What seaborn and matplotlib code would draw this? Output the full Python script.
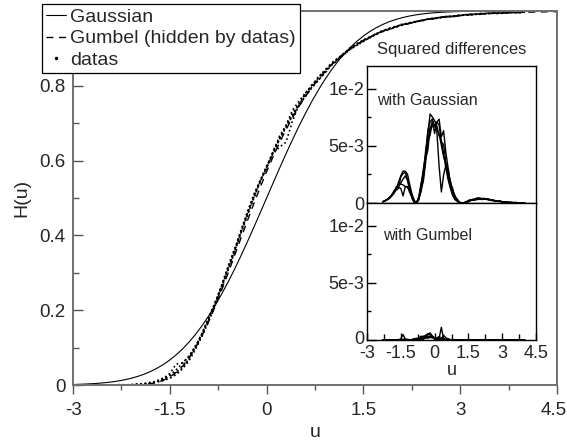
import numpy as np
import pandas as pd
import matplotlib
matplotlib.use("Agg")
import matplotlib.pyplot as plt
import matplotlib.transforms as mtransforms
import seaborn as sns
from matplotlib.lines import Line2D
from matplotlib.ticker import FixedLocator, MultipleLocator

# ------------------------------------------------------------------
# DATA
# ------------------------------------------------------------------
u_model = np.round(np.arange(-3.0, 4.51, 0.1), 1)

gauss = [
    0.0013, 0.0019, 0.0026, 0.0035, 0.0047, 0.0062, 0.0082, 0.0107, 0.0139, 0.0179,
    0.0228, 0.0287, 0.0359, 0.0446, 0.0548, 0.0668, 0.0808, 0.0968, 0.1151, 0.1357,
    0.1587, 0.1841, 0.2119, 0.2420, 0.2743, 0.3085, 0.3446, 0.3821, 0.4207, 0.4602,
    0.5000, 0.5398, 0.5793, 0.6179, 0.6554, 0.6915, 0.7257, 0.7580, 0.7881, 0.8159,
    0.8413, 0.8643, 0.8849, 0.9032, 0.9192, 0.9332, 0.9452, 0.9554, 0.9641, 0.9713,
    0.9772, 0.9821, 0.9861, 0.9893, 0.9918, 0.9938, 0.9953, 0.9965, 0.9974, 0.9981,
    0.9987, 0.9990, 0.9993, 0.9995, 0.9997, 0.9998, 0.9998, 0.9999, 0.9999, 1.0000,
    1.0000, 1.0000, 1.0000, 1.0000, 1.0000, 1.0000,
]

gumbel = [
    0.0000, 0.0000, 0.0000, 0.0000, 0.0000, 0.0000, 0.0000, 0.0000, 0.0001, 0.0003,
    0.0007, 0.0016, 0.0035, 0.0070, 0.0127, 0.0214, 0.0340, 0.0511, 0.0731, 0.1002,
    0.1321, 0.1685, 0.2088, 0.2521, 0.2976, 0.3444, 0.3915, 0.4383, 0.4840, 0.5283,
    0.5704, 0.6102, 0.6477, 0.6824, 0.7145, 0.7440, 0.7710, 0.7955, 0.8177, 0.8378,
    0.8558, 0.8720, 0.8865, 0.8994, 0.9110, 0.9213, 0.9304, 0.9385, 0.9457, 0.9521,
    0.9577, 0.9627, 0.9671, 0.9710, 0.9744, 0.9775, 0.9802, 0.9826, 0.9846, 0.9864,
    0.9881, 0.9895, 0.9908, 0.9919, 0.9929, 0.9937, 0.9945, 0.9951, 0.9957, 0.9962,
    0.9967, 0.9971, 0.9974, 0.9977, 0.9980, 0.9983,
]

u_data = np.round(np.arange(-2.3, 4.01, 0.1), 1)

# measured H(u) of five runs, in thousandths
run_a = [0, 0, 1, 2, 3, 6, 10, 15, 25, 35, 48, 71, 102, 137, 177,
         219, 266, 316, 360, 412, 460, 509, 547, 585, 622, 656, 692, 721, 747, 771,
         794, 814, 835, 855, 870, 887, 901, 912, 920, 928, 939, 947, 954, 959, 963,
         966, 971, 975, 978, 979, 983, 986, 986, 988, 989, 991, 993, 993, 994, 995,
         995, 996, 997, 997]
run_b = [0, 1, 0, 3, 3, 7, 8, 18, 31, 56, 59, 77, 106, 135, 179,
         221, 261, 313, 363, 409, 462, 505, 546, 582, 624, 662, 691, 727, 751, 775,
         802, 820, 837, 858, 872, 884, 898, 913, 921, 931, 937, 946, 953, 957, 965,
         967, 972, 973, 978, 981, 983, 984, 986, 989, 990, 991, 991, 993, 995, 994,
         995, 997, 996, 997]
run_c = [0, 0, 0, 1, 4, 5, 11, 19, 19, 30, 45, 70, 101, 136, 172,
         216, 263, 306, 357, 407, 450, 502, 542, 583, 620, 657, 689, 719, 750, 780,
         801, 821, 842, 857, 870, 888, 898, 908, 922, 930, 938, 947, 952, 956, 963,
         968, 971, 974, 979, 980, 982, 985, 987, 988, 990, 992, 992, 993, 994, 993,
         995, 996, 996, 998]
run_d = [1, 0, 1, 1, 2, 3, 9, 12, 18, 28, 44, 65, 96, 131, 169,
         213, 258, 308, 352, 404, 455, 498, 544, 582, 619, 636, 649, 705, 749, 773,
         796, 815, 833, 854, 868, 884, 899, 909, 918, 929, 940, 945, 950, 958, 964,
         966, 971, 975, 978, 980, 984, 985, 985, 988, 991, 991, 992, 994, 994, 994,
         996, 996, 996, 997]
run_e = [0, 0, 0, 1, 2, 5, 7, 16, 26, 41, 59, 78, 103, 139, 178,
         215, 262, 312, 355, 408, 457, 501, 545, 578, 624, 665, 694, 735, 758, 781,
         799, 824, 839, 860, 874, 886, 902, 911, 923, 929, 939, 948, 951, 958, 962,
         968, 970, 974, 978, 981, 983, 985, 985, 989, 990, 990, 993, 993, 994, 994,
         996, 996, 995, 997]
runs = {"a": run_a, "b": run_b, "c": run_c, "d": run_d, "e": run_e}

main_xticks = [-3, -1.5, 0, 1.5, 3, 4.5]
main_xticklabels = ["-3", "-1.5", "0", "1.5", "3", "4.5"]
main_yticks = [0, 0.2, 0.4, 0.6, 0.8, 1.0]
main_yticklabels = ["0", "0.2", "0.4", "0.6", "0.8", "1"]
inset_yticks = [0, 0.005, 0.01]
inset_yticklabels = ["0", "5e-3", "1e-2"]

# ------------------------------------------------------------------
# LONG TABLES
# ------------------------------------------------------------------
gauss = np.array(gauss)
gumbel = np.array(gumbel)
on_grid = np.isin(u_model, u_data)

run_rows = []
sq_rows = []
for name, vals in runs.items():
    h = np.array(vals) / 1000.0
    run_rows.append(pd.DataFrame({"run": name, "u": u_data, "H": h}))
    sq_rows.append(pd.DataFrame({"run": name, "u": u_data, "panel": "gauss",
                                 "sq": (h - gauss[on_grid]) ** 2}))
    sq_rows.append(pd.DataFrame({"run": name, "u": u_data, "panel": "gumbel",
                                 "sq": (h - gumbel[on_grid]) ** 2}))
df_runs = pd.concat(run_rows, ignore_index=True)
df_sq = pd.concat(sq_rows, ignore_index=True)

# ------------------------------------------------------------------
# STYLE
# ------------------------------------------------------------------
sns.set_style("white")
plt.rcParams["font.family"] = ["Liberation Sans", "DejaVu Sans"]

W, H = 567, 444
fig = plt.figure(figsize=(W / 100, H / 100), dpi=100)


def nudge(label, dx, dy):
    # shift a tick label by a few pixels
    off = mtransforms.ScaledTranslation(dx / 100, dy / 100, fig.dpi_scale_trans)
    label.set_transform(label.get_transform() + off)


# ------------------------------------------------------------------
# MAIN PLOT
# ------------------------------------------------------------------
ax = fig.add_axes([73 / W, 1 - 385 / H, (557 - 73) / W, (385 - 11) / H])
sns.lineplot(x=u_model, y=gauss, ax=ax, color="k", lw=0.8)
sns.lineplot(x=u_model, y=gumbel, ax=ax, color="k", lw=1.0, linestyle=(0, (5, 4)))
sns.lineplot(data=df_runs, x="u", y="H", units="run", estimator=None, ax=ax,
             color="k", lw=1.2, linestyle=":", legend=False)

ax.set_xlim(-3, 4.5)
ax.set_ylim(0, 1)
ax.xaxis.set_major_locator(FixedLocator(main_xticks))
ax.set_xticklabels(main_xticklabels)
ax.xaxis.set_minor_locator(MultipleLocator(0.75))
ax.yaxis.set_major_locator(FixedLocator(main_yticks))
ax.set_yticklabels(main_yticklabels)
ax.yaxis.set_minor_locator(MultipleLocator(0.1))
ax.tick_params(axis="x", which="major", direction="out", length=6.5, width=1,
               pad=6, labelsize=13.5, bottom=True, color="#555555")
ax.tick_params(axis="x", which="minor", direction="out", length=3.6, width=1,
               bottom=True, color="#555555")
ax.tick_params(axis="y", which="major", direction="in", length=7, width=1,
               pad=5.5, labelsize=13.5, left=True, color="#555555")
ax.tick_params(axis="y", which="minor", direction="in", length=4, width=1,
               left=True, color="#555555")
for sp in ax.spines.values():
    sp.set_color("#707070")
    sp.set_linewidth(1.4)
ax.set_xlabel("u", fontsize=14, labelpad=3)
ax.set_ylabel("H(u)", fontsize=14, labelpad=6)
nudge(ax.get_xticklabels()[-1], -3, 0)

handles = [
    Line2D([], [], color="k", lw=0.8),
    Line2D([], [], color="k", lw=1.0, linestyle=(0, (5, 4))),
    Line2D([], [], color="k", marker=".", markersize=3, linestyle="none"),
]
leg = ax.legend(handles, ["Gaussian", "Gumbel (hidden by datas)", "datas"],
                loc="upper left", bbox_to_anchor=(42 / W, 1 - 4 / H),
                bbox_transform=fig.transFigure, borderaxespad=0, fontsize=14,
                frameon=True, fancybox=False, framealpha=1, edgecolor="k",
                handlelength=1.05, handletextpad=0.2, labelspacing=0.22,
                borderpad=0.2)
leg.get_frame().set_linewidth(0.9)

# ------------------------------------------------------------------
# INSET: SQUARED DIFFERENCES
# ------------------------------------------------------------------
ax_g = fig.add_axes([367 / W, 1 - 203 / H, 169 / W, 137 / H])
ax_b = fig.add_axes([367 / W, 1 - 340 / H, 169 / W, 137 / H])

sns.lineplot(data=df_sq[df_sq["panel"] == "gauss"], x="u", y="sq", units="run",
             estimator=None, ax=ax_g, color="k", lw=1.0, legend=False)
sns.lineplot(data=df_sq[df_sq["panel"] == "gumbel"], x="u", y="sq", units="run",
             estimator=None, ax=ax_b, color="k", lw=1.0, legend=False)

for a in (ax_g, ax_b):
    a.set_facecolor("white")
    a.set_xlim(-3, 4.5)
    a.set_ylim(0, 0.012)
    a.yaxis.set_major_locator(FixedLocator(inset_yticks))
    a.set_yticklabels(inset_yticklabels)
    a.yaxis.set_minor_locator(MultipleLocator(0.0025))
    a.tick_params(axis="y", which="major", direction="in", length=6.5, width=1,
                  pad=2, labelsize=13, left=True, color="k")
    a.tick_params(axis="y", which="minor", direction="in", length=3, width=1,
                  left=True, color="k")
    a.set_ylabel("")
    for sp in a.spines.values():
        sp.set_color("k")
        sp.set_linewidth(1.0)

ax_g.tick_params(axis="x", which="both", bottom=False, labelbottom=False)
ax_g.set_xlabel("")
ax_g.set_title("Squared differences", fontsize=12, pad=8.5)
ax_g.text(0.06, 0.75, "with Gaussian", transform=ax_g.transAxes,
          fontsize=11.5, va="center")

ax_b.xaxis.set_major_locator(FixedLocator(main_xticks))
ax_b.set_xticklabels(main_xticklabels)
ax_b.xaxis.set_minor_locator(MultipleLocator(0.75))
ax_b.tick_params(axis="x", which="major", direction="in", length=5, width=1,
                 pad=3.5, labelsize=13, bottom=True, color="k")
ax_b.tick_params(axis="x", which="minor", direction="in", length=4, width=1,
                 bottom=True, color="k")
ax_b.set_xlabel("u", fontsize=13, labelpad=0)
ax_b.text(0.095, 0.76, "with Gumbel", transform=ax_b.transAxes,
          fontsize=11.5, va="center")
nudge(ax_b.get_yticklabels()[0], 0, 3)

fig.savefig("out.png", dpi=100)
